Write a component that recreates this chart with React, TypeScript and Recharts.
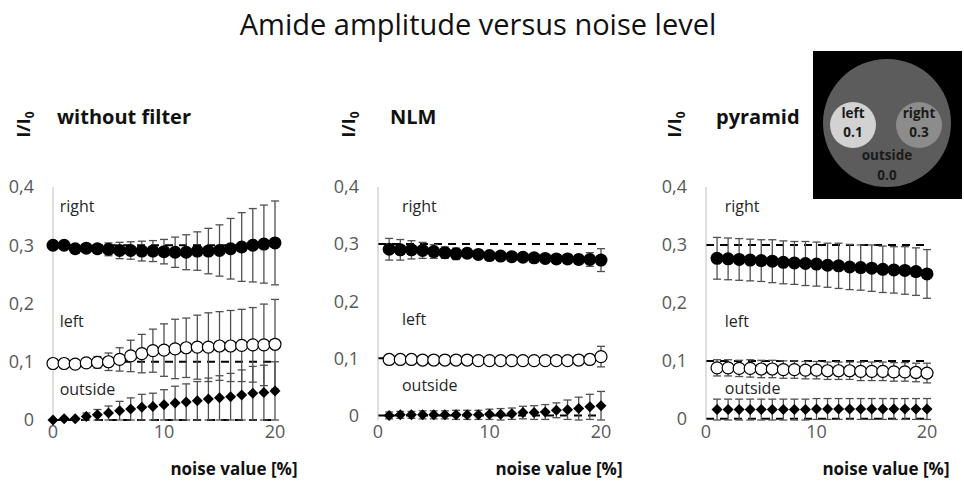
import React from 'react';
import { ScatterChart, Scatter, XAxis, YAxis, ErrorBar, ReferenceLine, ReferenceDot } from 'recharts';

// noise levels [%]
const noiseFull = [0, 1, 2, 3, 4, 5, 6, 7, 8, 9, 10, 11, 12, 13, 14, 15, 16, 17, 18, 19, 20];
const noiseFrom1 = [1, 2, 3, 4, 5, 6, 7, 8, 9, 10, 11, 12, 13, 14, 15, 16, 17, 18, 19, 20];

// true amplitudes of the phantom regions (dashed lines)
const trueLevels = [0.3, 0.1, 0];
const yTicks = [0, 0.1, 0.2, 0.3, 0.4];
const xTicks = [0, 10, 20];

// without filter
const rawRight = [0.300, 0.300, 0.294, 0.295, 0.294, 0.293, 0.291, 0.291, 0.290, 0.290, 0.289, 0.288, 0.288, 0.290, 0.290, 0.291, 0.294, 0.297, 0.300, 0.302, 0.304];
const rawRightErr = [0, 0.001, 0.002, 0.005, 0.007, 0.011, 0.014, 0.015, 0.017, 0.018, 0.021, 0.026, 0.030, 0.033, 0.039, 0.044, 0.052, 0.059, 0.063, 0.067, 0.072];
const rawLeft = [0.097, 0.097, 0.096, 0.098, 0.099, 0.100, 0.104, 0.110, 0.114, 0.119, 0.120, 0.122, 0.124, 0.125, 0.125, 0.127, 0.127, 0.128, 0.129, 0.129, 0.130];
const rawLeftErr = [0, 0, 0.001, 0.005, 0.010, 0.015, 0.020, 0.027, 0.033, 0.037, 0.045, 0.051, 0.051, 0.055, 0.059, 0.059, 0.061, 0.062, 0.064, 0.070, 0.077];
const rawOutside = [0, 0.002, 0.002, 0.006, 0.009, 0.012, 0.016, 0.019, 0.022, 0.023, 0.026, 0.029, 0.031, 0.033, 0.036, 0.038, 0.040, 0.043, 0.046, 0.047, 0.050];
const rawOutsideErr = [0, 0.002, 0.002, 0.006, 0.009, 0.012, 0.016, 0.019, 0.022, 0.023, 0.026, 0.029, 0.031, 0.033, 0.036, 0.038, 0.040, 0.043, 0.046, 0.047, 0.050];

// NLM
const nlmRight = [0.291, 0.290, 0.290, 0.289, 0.287, 0.285, 0.283, 0.284, 0.282, 0.280, 0.279, 0.278, 0.277, 0.276, 0.275, 0.274, 0.274, 0.273, 0.273, 0.272];
const nlmRightErr = [0.019, 0.018, 0.016, 0.014, 0.012, 0.010, 0.010, 0.008, 0.006, 0.005, 0.004, 0.003, 0.002, 0.002, 0.002, 0.003, 0.004, 0.008, 0.012, 0.020];
const nlmLeft = [0.098, 0.098, 0.098, 0.097, 0.097, 0.097, 0.097, 0.097, 0.096, 0.096, 0.096, 0.096, 0.096, 0.096, 0.096, 0.096, 0.096, 0.097, 0.098, 0.103];
const nlmLeftErr = [0.002, 0.002, 0.002, 0.002, 0.002, 0.002, 0.002, 0.002, 0.002, 0.002, 0.002, 0.002, 0.002, 0.002, 0.002, 0.003, 0.004, 0.005, 0.008, 0.018];
const nlmOutside = [0.000, 0.001, 0.001, 0.001, 0.001, 0.001, 0.001, 0.001, 0.001, 0.002, 0.002, 0.003, 0.005, 0.005, 0.006, 0.009, 0.010, 0.012, 0.015, 0.017];
const nlmOutsideErr = [0.006, 0.006, 0.006, 0.007, 0.007, 0.007, 0.008, 0.008, 0.008, 0.009, 0.010, 0.010, 0.011, 0.012, 0.013, 0.013, 0.017, 0.020, 0.022, 0.025];

// pyramid
const pyrRight = [0.277, 0.276, 0.275, 0.274, 0.273, 0.272, 0.270, 0.269, 0.268, 0.267, 0.265, 0.264, 0.262, 0.261, 0.260, 0.258, 0.257, 0.256, 0.254, 0.250];
const pyrRightErr = [0.036, 0.036, 0.036, 0.036, 0.036, 0.037, 0.037, 0.037, 0.038, 0.038, 0.038, 0.039, 0.039, 0.039, 0.040, 0.040, 0.040, 0.041, 0.041, 0.042];
const pyrLeft = [0.088, 0.088, 0.087, 0.087, 0.086, 0.086, 0.085, 0.085, 0.084, 0.084, 0.083, 0.083, 0.083, 0.082, 0.082, 0.082, 0.081, 0.081, 0.080, 0.079];
const pyrLeftErr = [0.014, 0.014, 0.014, 0.015, 0.015, 0.015, 0.015, 0.015, 0.015, 0.015, 0.015, 0.015, 0.015, 0.016, 0.016, 0.016, 0.016, 0.016, 0.016, 0.017];
const pyrOutside = [0.016, 0.016, 0.016, 0.016, 0.016, 0.016, 0.016, 0.016, 0.016, 0.017, 0.017, 0.017, 0.017, 0.017, 0.017, 0.017, 0.017, 0.017, 0.017, 0.017];
const pyrOutsideErr = [0.018, 0.018, 0.018, 0.018, 0.018, 0.018, 0.018, 0.018, 0.018, 0.018, 0.018, 0.018, 0.018, 0.018, 0.018, 0.018, 0.018, 0.018, 0.018, 0.018];

const FONT = '"Open Sans", sans-serif';
const TICK_GREY = '#595959';
const BAR_GREY = '#505050';

const toRows = (xs: number[], ys: number[], errs: number[]) =>
  xs.map((x, i) => ({ x, y: ys[i], err: errs[i] }));

const fmtY = (v: number) => (v === 0 ? '0' : v.toFixed(1).replace('.', ','));

const FilledDot = (p: any) => <circle cx={p.cx} cy={p.cy} r={6.5} fill="#000" />;
const OpenDot = (p: any) => <circle cx={p.cx} cy={p.cy} r={6} fill="#fff" stroke="#000" strokeWidth={1.2} />;
const Diamond = (p: any) => {
  const s = 5.5;
  return <polygon points={`${p.cx},${p.cy - s} ${p.cx + s},${p.cy} ${p.cx},${p.cy + s} ${p.cx - s},${p.cy}`} fill="#000" />;
};

interface PanelProps {
  left: number;
  width: number;
  axisWidth: number;
  rightMargin: number;
  labelX: number;
  xs: number[];
  right: number[];
  rightErr: number[];
  leftS: number[];
  leftErr: number[];
  outside: number[];
  outsideErr: number[];
}

const regionLabel = (text: string) => ({ value: text, position: 'right' as const, offset: 0, fill: '#262626', fontSize: 16 });

const Panel: React.FC<PanelProps> = (p) => (
  <div style={{ position: 'absolute', left: p.left, top: 170 }}>
    <ScatterChart width={p.width} height={316} margin={{ top: 17, right: p.rightMargin, bottom: 0, left: 0 }}>
      <XAxis
        type="number"
        dataKey="x"
        domain={[0, 20]}
        ticks={xTicks}
        axisLine={false}
        tickLine={false}
        tickSize={0}
        tickMargin={5}
        height={66}
        tick={{ fill: TICK_GREY, fontSize: 18 }}
      />
      <YAxis
        type="number"
        dataKey="y"
        domain={[0, 0.4]}
        ticks={yTicks}
        tickFormatter={fmtY}
        axisLine={{ stroke: '#bfbfbf' }}
        tickLine={false}
        tickSize={0}
        tickMargin={19}
        width={p.axisWidth}
        tick={{ fill: TICK_GREY, fontSize: 18 }}
      />
      {trueLevels.map((v) => (
        <ReferenceLine key={v} y={v} stroke="#000" strokeWidth={2} strokeDasharray="8 6" />
      ))}
      <ReferenceDot x={p.labelX} y={0.366} r={0} fill="none" stroke="none" label={regionLabel('right')} />
      <ReferenceDot x={p.labelX} y={0.169} r={0} fill="none" stroke="none" label={regionLabel('left')} />
      <ReferenceDot x={p.labelX} y={0.053} r={0} fill="none" stroke="none" label={regionLabel('outside')} />
      <Scatter data={toRows(p.xs, p.outside, p.outsideErr)} shape={Diamond} isAnimationActive={false}>
        <ErrorBar dataKey="err" direction="y" width={4} stroke={BAR_GREY} strokeWidth={1.3} />
      </Scatter>
      <Scatter data={toRows(p.xs, p.leftS, p.leftErr)} shape={OpenDot} isAnimationActive={false}>
        <ErrorBar dataKey="err" direction="y" width={4} stroke={BAR_GREY} strokeWidth={1.3} />
      </Scatter>
      <Scatter data={toRows(p.xs, p.right, p.rightErr)} shape={FilledDot} isAnimationActive={false}>
        <ErrorBar dataKey="err" direction="y" width={4} stroke={BAR_GREY} strokeWidth={1.3} />
      </Scatter>
    </ScatterChart>
  </div>
);

const YTitle = ({ x }: { x: number }) => (
  <text transform={`translate(${x},124.5) rotate(-90)`} textAnchor="middle" fontWeight="bold" fontSize={18} fill="#111">
    I/I<tspan fontSize={12} dy={4}>0</tspan>
  </text>
);

const App: React.FC = () => (
  <div style={{ position: 'absolute', left: 0, top: 0, width: 964, height: 486, background: '#fff', fontFamily: FONT }}>
    <Panel left={0} width={320} axisWidth={53} rightMargin={45} labelX={0.6}
      xs={noiseFull} right={rawRight} rightErr={rawRightErr} leftS={rawLeft} leftErr={rawLeftErr} outside={rawOutside} outsideErr={rawOutsideErr} />
    <Panel left={320} width={320} axisWidth={58} rightMargin={39} labelX={2.15}
      xs={noiseFrom1} right={nlmRight} rightErr={nlmRightErr} leftS={nlmLeft} leftErr={nlmLeftErr} outside={nlmOutside} outsideErr={nlmOutsideErr} />
    <Panel left={640} width={324} axisWidth={66} rightMargin={37} labelX={1.7}
      xs={noiseFrom1} right={pyrRight} rightErr={pyrRightErr} leftS={pyrLeft} leftErr={pyrLeftErr} outside={pyrOutside} outsideErr={pyrOutsideErr} />

    <svg width={964} height={486} style={{ position: 'absolute', left: 0, top: 0, pointerEvents: 'none' }}>
      <text x={478} y={35} textAnchor="middle" fontSize={29} fill="#111">Amide amplitude versus noise level</text>

      <YTitle x={30} />
      <YTitle x={355} />
      <YTitle x={681} />
      <text x={57} y={124} fontWeight="bold" fontSize={20} fill="#111">without filter</text>
      <text x={390} y={124} fontWeight="bold" fontSize={20} fill="#111">NLM</text>
      <text x={716} y={124} fontWeight="bold" fontSize={20} fill="#111">pyramid</text>

      <text x={234} y={475} textAnchor="middle" fontWeight="bold" fontSize={17} fill="#111">noise value [%]</text>
      <text x={559} y={475} textAnchor="middle" fontWeight="bold" fontSize={17} fill="#111">noise value [%]</text>
      <text x={886} y={475} textAnchor="middle" fontWeight="bold" fontSize={17} fill="#111">noise value [%]</text>

      {/* phantom sketch with the region amplitudes */}
      <rect x={813} y={51} width={149} height={148} fill="#000" />
      <circle cx={887} cy={123} r={64} fill="#5c5c5c" />
      <circle cx={853} cy={125} r={23} fill="#d2d2d2" />
      <circle cx={919} cy={125} r={23} fill="#8c8c8c" />
      <g fontWeight="bold" fontSize={13.5} fill="#1a1a1a" textAnchor="middle">
        <text x={853} y={118}>left</text>
        <text x={853} y={137}>0.1</text>
        <text x={919} y={118}>right</text>
        <text x={919} y={137}>0.3</text>
        <text x={887} y={160}>outside</text>
        <text x={887} y={180}>0.0</text>
      </g>
    </svg>
  </div>
);

export default App;
